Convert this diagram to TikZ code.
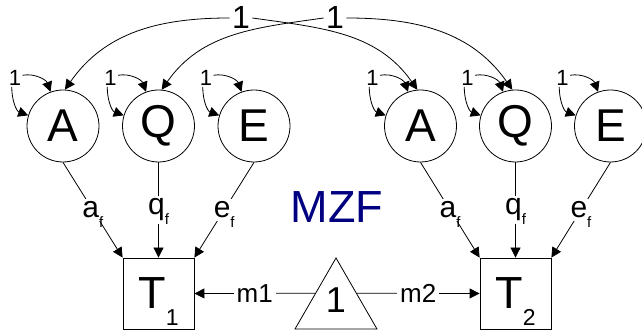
\documentclass[tikz,border=0pt]{standalone}
\usepackage{fontspec}
\setmainfont{Liberation Sans}
\usepackage{tikz}
\usetikzlibrary{arrows.meta,shapes.geometric,calc}
\definecolor{mzblue}{RGB}{0,0,128}
\newcommand{\fsub}{\raisebox{-10pt}[0pt][0pt]{\fontsize{15}{15}\selectfont f}}
\newcommand{\tsub}[1]{\raisebox{-17pt}[0pt][0pt]{\fontsize{23}{23}\selectfont #1}}

\begin{document}
\begin{tikzpicture}[x=1pt,y=1pt,line width=0.8pt,
  >={Triangle[length=10pt,width=10pt]},
  latent/.style={draw,circle,minimum size=72pt,inner sep=0pt,font=\fontsize{46}{46}\selectfont},
  manif/.style={draw,rectangle,minimum size=71pt,inner sep=0pt,font=\fontsize{45}{45}\selectfont},
  lbl/.style={fill=white,inner sep=3pt,font=\fontsize{30}{30}\selectfont},
  mlbl/.style={fill=white,inner sep=3pt,font=\fontsize{26}{26}\selectfont},
  varone/.style={inner sep=1pt,font=\fontsize{22}{22}\selectfont},
  covone/.style={inner sep=2pt,font=\fontsize{32}{32}\selectfont}]
\useasboundingbox (0,0) rectangle (642,336);
\clip (0,0) rectangle (642,336);
\foreach \nm/\tx/\x in {A1/A/63,Q1/Q/158.5,E1/E/254,A2/A/420.5,Q2/Q/515.5,E2/E/610.5}{
  \node[latent] (\nm) at (\x,210) {\tx};
  \node[varone] (v\nm) at (\x-48,258) {1};
  \draw[->] (v\nm.20) to[out=10,in=110] (\nm.110);
  \draw[->] (v\nm.-110) to[out=-90,in=160] (\nm.163);
}
\node[manif] (T1) at (158.5,42.5) {T\tsub{1}};
\node[manif] (T2) at (515.5,42.5) {T\tsub{2}};
\node[draw,regular polygon,regular polygon sides=3,minimum size=94.6pt,inner sep=0pt] (tri) at (336,30.7) {};
\node[font=\fontsize{36}{36}\selectfont] (one) at (336,36) {1};
\node[text=mzblue,font=\fontsize{45}{45}\selectfont] (mzf) at (337,129) {MZF};
\foreach \i in {1,2}{
  \draw[->] (A\i.south) -- node[lbl] (la\i) {a\fsub} (T\i.north west);
  \draw[->] (Q\i.south) -- node[lbl] (lq\i) {q\fsub} (T\i.north);
  \draw[->] (E\i.south) -- node[lbl] (le\i) {e\fsub} (T\i.north east);
}
\draw[<-] (T1.east) -- node[mlbl] (m1) {m1} (tri.side 1);
\draw[->] (tri.side 3) -- node[mlbl] (m2) {m2} (T2.west);
\node[covone] (c1) at (241,318) {1};
\node[covone] (c2) at (335,318) {1};
\draw[->] (c1.west) to[out=180,in=55] (A1.87);
\draw[->] (c1.east) to[out=-8,in=125] (A2.95);
\draw[->] (c2.west) to[out=188,in=55] (Q1.85);
\draw[->] (c2.east) to[out=0,in=125] (Q2.95);
\end{tikzpicture}
\end{document}
